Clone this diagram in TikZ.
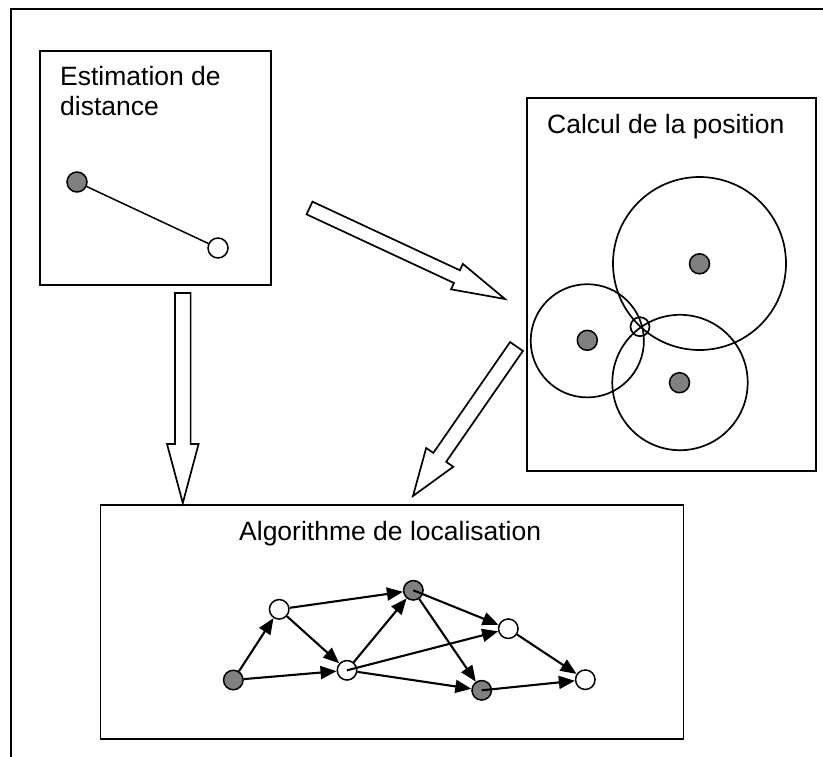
\documentclass[tikz,border=0pt]{standalone}
\usepackage{fontspec}
\setmainfont{Liberation Sans}
\usetikzlibrary{calc,arrows.meta}
\tikzset{
  frame/.style={draw=black, line width=2pt},
  boxnode/.style={draw=black, line width=1.9pt, inner sep=0pt, anchor=north west},
  lbl/.style={inner sep=0pt, anchor=base west, font=\fontsize{26.5}{30}\selectfont},
  blockarr/.style={draw=black, line width=1.7pt, line join=miter, fill=white},
  ring/.style={draw=black, line width=1.7pt},
  graydot/.style={circle, draw=black, line width=1.5pt, fill=gray, minimum size=20pt, inner sep=0pt},
  whitedot/.style={circle, draw=black, line width=1.5pt, fill=white, minimum size=20pt, inner sep=0pt},
  gdot/.style={circle, draw=black, line width=1.5pt, fill=gray, minimum size=19.5pt, inner sep=0pt},
  wdot/.style={circle, draw=black, line width=1.5pt, fill=white, minimum size=19.5pt, inner sep=0pt},
  edge/.style={draw=black, line width=2.1pt, -{Triangle[length=16pt,width=13pt]}},
}
\newcommand\blockarrow[5]{%
  \coordinate (bah) at ($(#2)!#5!(#1)$);
  \draw[blockarr] ($(#1)!#3!90:(#2)$) -- ($(bah)!#3!-90:(#1)$) -- ($(bah)!#4!-90:(#1)$) -- (#2)
    -- ($(bah)!#4!90:(#1)$) -- ($(bah)!#3!90:(#1)$) -- ($(#1)!#3!-90:(#2)$) -- cycle;
}
\begin{document}
\begin{tikzpicture}[x=1pt,y=-1pt]
\useasboundingbox (0,0) rectangle (823,756);
\clip (0,0) rectangle (823,756);
% outer frame (cut off at right and bottom)
\draw[frame] (11,770) -- (11,9) -- (835,9);

% boxes
\node[boxnode, minimum width=231pt, minimum height=234pt] (est) at (39,50) {};
\node[boxnode, minimum width=289pt, minimum height=373pt] (calc) at (526,97) {};
\node[boxnode, minimum width=583pt, minimum height=234pt] (algo) at (99.5,504) {};

% labels
\node[lbl] (estT1) at (60,85) {Estimation de};
\node[lbl] (estT2) at (60,115) {distance};
\node[lbl] (calcT) at (547,133) {Calcul de la position};
\node[lbl] (algoT) at (239,540) {Algorithme de localisation};

% distance estimation
\node[graydot] (e1) at (77,182) {};
\node[whitedot] (e2) at (218,248) {};
\draw[line width=1.5pt] (e1) -- (e2);

% position computation
\draw[ring] (699.5,263.5) circle[radius=86.5];
\draw[ring] (587.3,340.8) circle[radius=56.6];
\draw[ring] (680,382.5) circle[radius=67.7];
\draw[ring] (640,326.7) circle[radius=9.5];
\node[graydot] (c1) at (699.5,263.8) {};
\node[graydot] (c2) at (587.3,340.3) {};
\node[graydot] (c3) at (679.5,382.7) {};

% block arrows
\coordinate (a1s) at (309.5,208);
\coordinate (a1e) at (505,299);
\blockarrow{a1s}{a1e}{7pt}{14pt}{53pt}
\coordinate (a2s) at (516.5,346.5);
\coordinate (a2e) at (413,496);
\blockarrow{a2s}{a2e}{7.8pt}{16.5pt}{47pt}
\coordinate (a3s) at (182.8,293);
\coordinate (a3e) at (182.8,503);
\blockarrow{a3s}{a3e}{7.8pt}{15.8pt}{59pt}

% localisation graph
\node[gdot] (n1) at (233.3,680) {};
\node[wdot] (n2) at (279.2,609.3) {};
\node[wdot] (n3) at (347,670.3) {};
\node[gdot] (n4) at (413.3,590.3) {};
\node[wdot] (n5) at (508.3,628.7) {};
\node[gdot] (n6) at (481.7,690.3) {};
\node[wdot] (n7) at (585.3,679.7) {};
\draw[edge] (n1) -- (n2);
\draw[edge] (n1) -- (n3);
\draw[edge] (n2) -- (n4);
\draw[edge] (n2) -- (n3);
\draw[edge] (n3) -- (n4);
\draw[edge] (n3.center) -- (n5);
\draw[edge] (n3) -- (n6);
\draw[edge] (n4.center) -- (n5);
\draw[edge] (n4) -- (n6);
\draw[edge] (n5) -- (n7);
\draw[edge] (n6.center) -- (n7);
\end{tikzpicture}
\end{document}
